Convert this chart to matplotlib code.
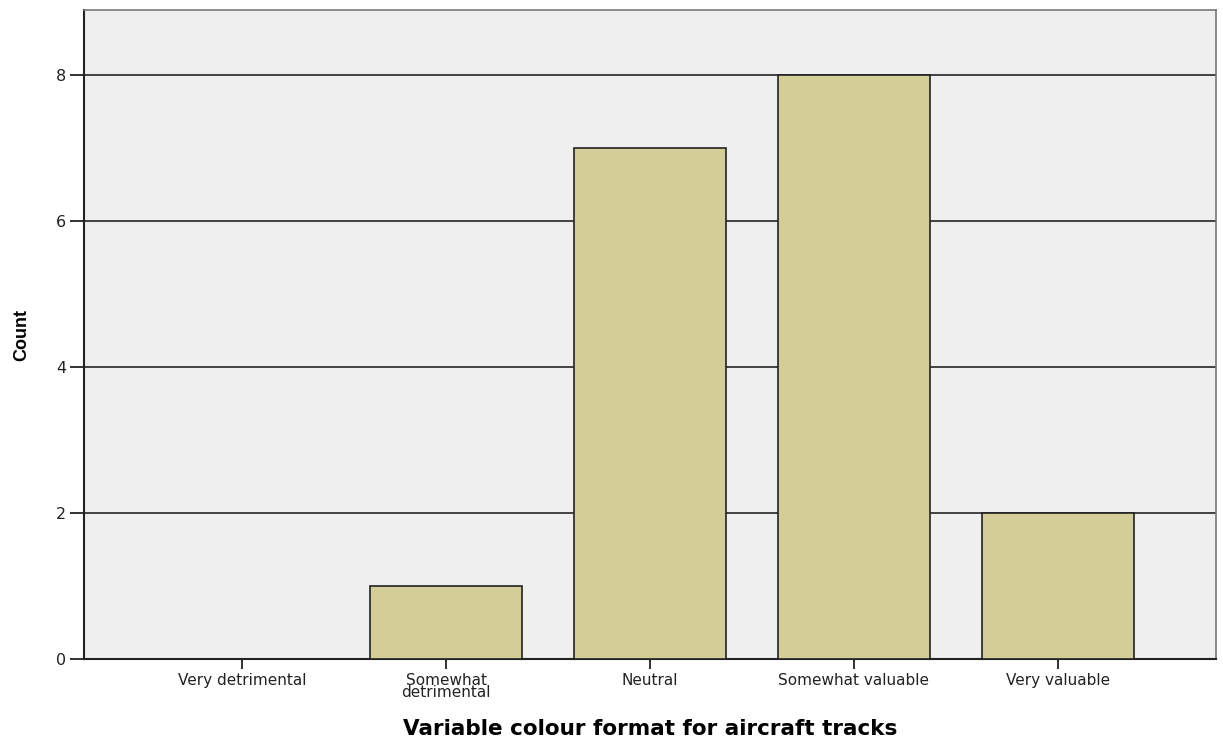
import matplotlib.pyplot as plt

categorias = ['Very detrimental', 'Somewhat\ndetrimental', 'Neutral',
              'Somewhat valuable', 'Very valuable']
conteos = [0, 1, 7, 8, 2]
ticks_y = [0, 2, 4, 6, 8]

fig = plt.figure(figsize=(12.23, 7.49), dpi=100)
ax = fig.add_axes([0.0687, 0.1202, 0.9256, 0.8664])

ax.set_facecolor('#EFEFEF')

# lineas horizontales de la cuadricula
ax.set_yticks(ticks_y)
ax.yaxis.grid(True, color='#333333', linewidth=1.3, zorder=1)
ax.set_axisbelow(True)

x = range(len(categorias))
ax.bar(x, conteos, width=0.745, color='#D3CE97', edgecolor='#222222',
       linewidth=1.2, zorder=3)

ax.set_xlim(-0.775, 4.775)
ax.set_ylim(0, 8.89)
ax.set_xticks(list(x))
ax.set_xticklabels(categorias, fontsize=11, family='DejaVu Sans',
                   linespacing=0.8, color='#222222')
ax.tick_params(axis='y', length=10, width=1.3, color='#222222',
               labelsize=11.5, labelcolor='#222222', pad=3)
ax.tick_params(axis='x', length=7, width=1.3, color='#222222', pad=3)

for lado in ['left', 'bottom']:
    ax.spines[lado].set_color('#222222')
    ax.spines[lado].set_linewidth(1.5)
for lado in ['top', 'right']:
    ax.spines[lado].set_color('#777777')
    ax.spines[lado].set_linewidth(1.2)

ax.set_ylabel('Count', fontsize=13, fontweight='bold',
              family='Liberation Sans', labelpad=18)
ax.set_xlabel('Variable colour format for aircraft tracks', fontsize=15.5,
              fontweight='bold', family='DejaVu Sans', labelpad=13)

fig.savefig('out.png', dpi=100)
